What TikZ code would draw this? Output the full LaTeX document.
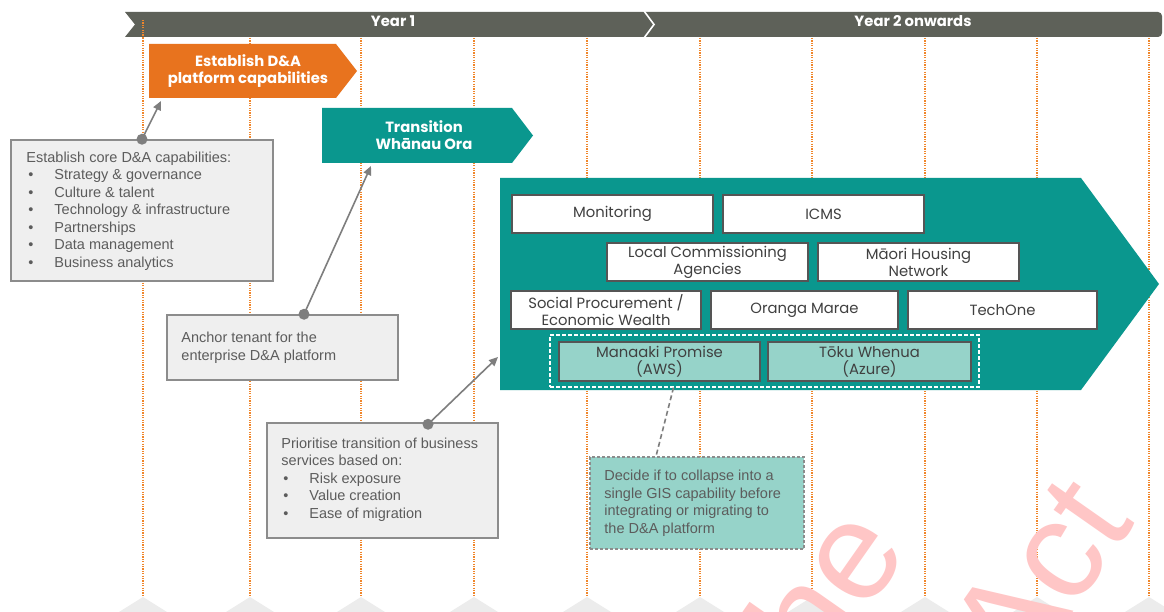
\documentclass[tikz,border=0pt]{standalone}
\usepackage{fontspec}
\setmainfont{Liberation Sans}
\newfontfamily\headfont{Poppins}
\usetikzlibrary{arrows.meta,calc}

\definecolor{hdrgrey}{HTML}{5E6159}
\definecolor{orangeA}{HTML}{E8731E}
\definecolor{tealA}{HTML}{0A978E}
\definecolor{tealL}{HTML}{96D3C9}
\definecolor{vlinecol}{HTML}{F0862B}
\definecolor{calloutfill}{HTML}{EFEFEF}
\definecolor{calloutline}{HTML}{8C8C8C}
\definecolor{txtgrey}{HTML}{5C5C5C}
\definecolor{boxtxt}{HTML}{404040}
\definecolor{cellline}{HTML}{555555}
\definecolor{connector}{HTML}{7E7E7E}
\definecolor{wmark}{HTML}{FFC6C6}
\definecolor{trigrey}{HTML}{ECECEC}

\tikzset{
  vline/.style={vlinecol, line width=1.3pt, dash pattern=on 1.2pt off 1.2pt},
  headtext/.style={text=white, font={\headfont\bfseries\fontsize{14.8}{17}\selectfont}, align=center, inner sep=0pt},
  cell/.style={draw=cellline, line width=1.1pt, fill=white, text=boxtxt, align=center, inner sep=0pt,
    font={\headfont\fontsize{14.8}{17}\selectfont}},
  gcell/.style={cell, fill=tealL},
  callout/.style={draw=calloutline, line width=1.5pt, fill=calloutfill, inner sep=0pt},
  callouttext/.style={text=txtgrey, align=left, inner sep=0pt, anchor=west,
    font={\fontsize{14.5}{17.5}\selectfont}},
  link/.style={connector, line width=1.6pt, -{Triangle[length=9pt,width=8pt]}},
  linkdot/.style={fill=connector, draw=none},
}
\newcommand{\bul}{\hspace*{2pt}\makebox[26pt][l]{\textbullet}}

\begin{document}
\begin{tikzpicture}[x=1pt,y=-1pt]
\useasboundingbox (0,0) rectangle (1164,612);
\fill[white] (0,0) rectangle (1164,612);

% timeline header bar
\fill[hdrgrey] (125,12) [rounded corners=4] -- (1162,12) -- (1162,37) [sharp corners] -- (125,37) -- (135,24.5) -- cycle;
\draw[white, line width=1.6pt] (644,11) -- (654,24.5) -- (644,38);
\node[headtext] (year1) at (393,21.5) {Year 1};
\node[headtext] (year2) at (913,21.5) {Year 2 onwards};

% month gridlines with their base markers
\foreach \x in {143,250,361,474,587,700,812,925,1037,1149}{
  \draw[vline] (\x,38) -- (\x,596);
  \fill[trigrey] (\x-24,612) -- (\x,597) -- (\x+24,612) -- cycle;
}
\draw[vline] (143,20) -- (143,38);

% watermark
\begin{scope}
  \clip (0,0) rectangle (1164,612);
  \node[wmark, font={\fontsize{140}{140}\selectfont}, rotate=55, anchor=base east, inner sep=0pt] (wmthe) at (910,551) {the};
  \node[wmark, font={\fontsize{140}{140}\selectfont}, rotate=55, anchor=base west, inner sep=0pt] (wmact) at (1020,688) {Act};
\end{scope}

% phase arrows
\fill[orangeA] (149,44) -- (336,44) -- (357,71) -- (336,98) -- (149,98) -- cycle;
\node[headtext] (estab) at (248,71) {Establish D\&A\\platform capabilities};
\fill[tealA] (322,108) -- (512,108) -- (533,135.5) -- (512,163) -- (322,163) -- cycle;
\node[headtext] (trans) at (424,135.5) {Transition\\Wh\=anau Ora};

% platform block
\fill[tealA] (500,178) -- (1081,178) -- (1159,284) -- (1081,390) -- (500,390) -- cycle;
\node[cell, minimum width=201pt, minimum height=38pt] (mon) at (612.5,214) {Monitoring};
\node[cell, minimum width=201pt, minimum height=38pt] (icms) at (823.5,214) {ICMS};
\node[cell, minimum width=201pt, minimum height=38pt] (lca) at (707.5,262) {Local Commissioning\\Agencies};
\node[cell, minimum width=201pt, minimum height=38pt] (mhn) at (918.5,262) {M\=aori Housing\\Network};
\node[cell, minimum width=190pt, minimum height=38pt] (spew) at (606,310) {Social Procurement /\\Economic Wealth};
\node[cell, minimum width=187pt, minimum height=38pt] (om) at (804.5,310) {Oranga Marae};
\node[cell, minimum width=189pt, minimum height=38pt] (tech) at (1002.5,310) {TechOne};
\node[draw=white, line width=1.3pt, dash pattern=on 4pt off 2pt, minimum width=429pt, minimum height=52pt, inner sep=0pt] (gis) at (764.5,361) {};
\node[gcell, minimum width=201pt, minimum height=39pt] (mp) at (659.5,361.5) {Manaaki Promise\\(AWS)};
\node[gcell, minimum width=203pt, minimum height=39pt] (tw) at (869.5,361.5) {T\=oku Whenua\\(Azure)};

% callouts
\node[callout, minimum width=262pt, minimum height=141pt] (core) at (142,210.5) {};
\node[callouttext] (coretxt) at ($(core.west)+(16,0.5)$) {Establish core D\&A capabilities:\\
\bul Strategy \& governance\\
\bul Culture \& talent\\
\bul Technology \& infrastructure\\
\bul Partnerships\\
\bul Data management\\
\bul Business analytics};

\node[callout, minimum width=231pt, minimum height=65pt] (anchor) at (282.5,347.5) {};
\node[callouttext] (anchortxt) at ($(anchor.west)+(15,0.5)$) {Anchor tenant for the\\enterprise D\&A platform};

\node[callout, minimum width=231pt, minimum height=115pt] (prio) at (382.5,480.5) {};
\node[callouttext] (priotxt) at ($(prio.west)+(15,-1)$) {Prioritise transition of business\\services based on:\\
\bul Risk exposure\\
\bul Value creation\\
\bul Ease of migration};

\node[draw=calloutline, line width=1.5pt, dash pattern=on 3pt off 2pt, fill=tealL, minimum width=214pt, minimum height=92pt, inner sep=0pt] (decide) at (697,503) {};
\node[callouttext] (decidetxt) at ($(decide.west)+(15,0)$) {Decide if to collapse into a\\single GIS capability before\\integrating or migrating to\\the D\&A platform};

% connectors
\coordinate (estTip) at (161,101);
\coordinate (transTip) at (371,166);
\coordinate (platTip) at (498,357);
\coordinate (anchorDot) at ($(anchor.north)+(21.5,0)$);
\coordinate (prioDot) at ($(prio.north)+(45.5,2)$);
\coordinate (gisFoot) at ($(gis.south)+(-91,0)$);
\coordinate (decideTop) at ($(decide.north)+(-41,0)$);

\draw[link] (core.north) -- (estTip);
\draw[link] (anchorDot) -- (transTip);
\draw[link] (prioDot) -- (platTip);
\draw[connector, line width=1.6pt, dash pattern=on 5pt off 3pt] (gisFoot) -- (decideTop);
\fill[linkdot] (core.north) circle (5.5);
\fill[linkdot] (anchorDot) circle (5.5);
\fill[linkdot] (prioDot) circle (5.5);
\end{tikzpicture}
\end{document}
